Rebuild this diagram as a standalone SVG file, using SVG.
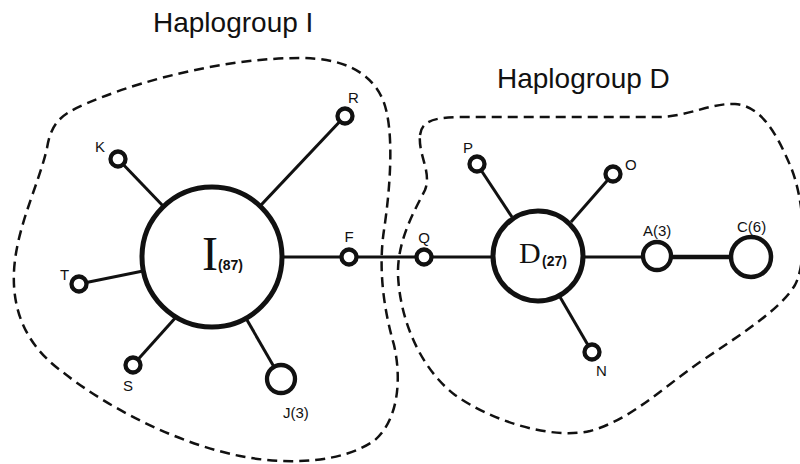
<svg xmlns="http://www.w3.org/2000/svg" width="800" height="464" viewBox="0 0 800 464">
<style>
.hull{fill:none;stroke:#111;stroke-width:2.5;stroke-dasharray:10,6}
.edge{stroke:#111;stroke-width:3;fill:none}
.small{fill:#fff;stroke:#111;stroke-width:4.3}
.big{fill:#fff;stroke:#111;stroke-width:5}
.lbl{font-family:"Liberation Sans",Arial,sans-serif;font-size:15px;fill:#111}
.title{font-family:"Liberation Sans",Arial,sans-serif;font-size:28px;fill:#111}
.serif{font-family:"Liberation Serif","Times New Roman",serif;fill:#111}
.cnt{font-family:"Liberation Sans",Arial,sans-serif;font-size:14px;font-weight:bold;fill:#111}
</style>
<rect width="800" height="464" fill="#fff"/>
<g id="groups">
<path class="hull" d="M 47,148 C 52,118 65,112 100,98 C 150,78 230,58 300,58 C 340,58 370,70 383,100 C 395,130 390,190 384,230 C 378,270 384,310 394,345 C 402,380 398,420 375,440 C 345,462 290,466 240,456 C 180,444 110,410 60,370 C 20,340 10,300 15,260 C 20,220 40,180 47,148 Z"/>
<path class="hull" d="M 420,135 C 422,118 440,117 470,117 L 660,117 C 690,116 710,103 735,104 C 760,106 775,130 790,165 C 805,200 808,260 795,285 C 780,310 740,335 700,362 C 660,390 630,420 590,431 C 550,440 490,420 455,395 C 420,368 400,320 398,275 C 397,240 415,210 425,190 C 432,172 418,155 420,135 Z"/>
<text class="title" x="153" y="32">Haplogroup I</text>
<text class="title" x="497" y="88">Haplogroup D</text>
</g>
<g id="connectors">
<line class="edge" x1="212" y1="257" x2="118" y2="159"/>
<line class="edge" x1="212" y1="257" x2="345" y2="116"/>
<line class="edge" x1="212" y1="257" x2="79" y2="284"/>
<line class="edge" x1="177" y1="316" x2="133" y2="365"/>
<line class="edge" x1="247" y1="320" x2="281" y2="379"/>
<line class="edge" x1="212" y1="257" x2="538" y2="257"/>
<line class="edge" x1="512" y1="217" x2="477" y2="164"/>
<line class="edge" x1="571" y1="222" x2="613" y2="174"/>
<line class="edge" x1="560" y1="297" x2="592" y2="352"/>
<line class="edge" x1="538" y1="257" x2="657" y2="257"/>
<line class="edge" x1="657" y1="257" x2="751" y2="257" style="stroke-width:4.5"/>
</g>
<g id="node-I"><circle class="big" cx="212" cy="257" r="70"/><text class="serif" x="202" y="270" font-size="48">I</text><text class="cnt" x="218" y="270">(87)</text></g>
<g id="node-D"><circle class="big" cx="538" cy="256" r="45"/><text class="serif" x="519" y="263" font-size="30">D</text><text class="cnt" x="542" y="266">(27)</text></g>
<g id="node-K"><circle class="small" cx="118" cy="159" r="7.5"/><text class="lbl" x="95" y="152">K</text></g>
<g id="node-R"><circle class="small" cx="345" cy="116" r="7.5"/><text class="lbl" x="348" y="103">R</text></g>
<g id="node-T"><circle class="small" cx="79" cy="284" r="7.5"/><text class="lbl" x="60" y="280">T</text></g>
<g id="node-S"><circle class="small" cx="133" cy="365" r="7.5"/><text class="lbl" x="123" y="391">S</text></g>
<g id="node-J"><circle class="small" cx="281" cy="379" r="14"/><text class="lbl" x="283" y="418" font-size="14">J(3)</text></g>
<g id="node-F"><circle class="small" cx="349" cy="257" r="7.5"/><text class="lbl" x="349" y="242" text-anchor="middle">F</text></g>
<g id="node-Q"><circle class="small" cx="424" cy="257" r="7.5"/><text class="lbl" x="424" y="243" text-anchor="middle">Q</text></g>
<g id="node-P"><circle class="small" cx="477" cy="164" r="7.5"/><text class="lbl" x="463" y="153">P</text></g>
<g id="node-O"><circle class="small" cx="613" cy="174" r="7.5"/><text class="lbl" x="625" y="170">O</text></g>
<g id="node-N"><circle class="small" cx="592" cy="352" r="7.5"/><text class="lbl" x="596" y="376">N</text></g>
<g id="node-A"><circle class="small" cx="657" cy="256" r="14"/><text class="lbl" x="643" y="236" font-size="14">A(3)</text></g>
<g id="node-C"><circle class="small" cx="751" cy="257" r="20" style="stroke-width:4.5"/><text class="lbl" x="737" y="232" font-size="14">C(6)</text></g>
</svg>
